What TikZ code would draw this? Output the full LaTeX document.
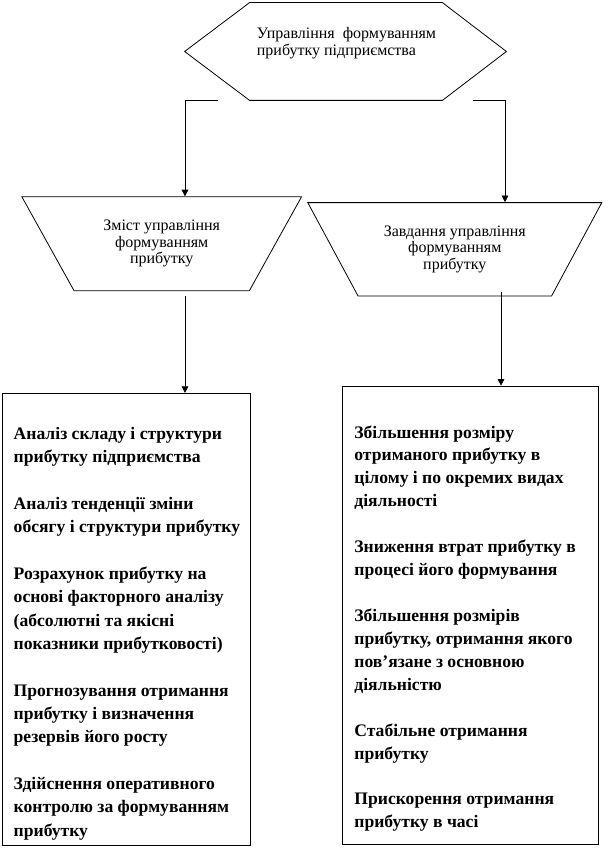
\documentclass[tikz,border=0pt]{standalone}
\usepackage{fontspec}
\setmainfont{Liberation Serif}
\usetikzlibrary{shapes,arrows,positioning,calc,arrows.meta}

\begin{document}
\begin{tikzpicture}[x=0.75pt,y=-0.75pt,
    >={Triangle[length=5pt,width=5pt]},
    every path/.style={line width=0.6pt},
    plain/.style={font=\fontsize{12pt}{12.4pt}\selectfont, align=center, inner sep=0pt},
    trap/.style={plain, draw, shape=trapezium, shape border rotate=180,
        trapezium stretches=true, minimum height=70.5pt},
    listbox/.style={draw, rectangle, inner sep=0pt},
    listtext/.style={align=left, inner sep=0pt, anchor=north west}]
    \useasboundingbox (0,0) rectangle (607,848);

    % Hexagon
    \node[inner sep=0pt, minimum width=240.75pt, minimum height=72.75pt] (upr) at (345.5,51.5) {};
    \draw (upr.west) -- ($(upr.north west)+(65,0)$) -- ($(upr.north east)+(-64,0)$) -- (upr.east)
        -- ($(upr.south east)+(-64,0)$) -- ($(upr.south west)+(65,0)$) -- cycle;
    \node[plain, align=left] (uprtext) at (346.5,43.3) {Управління \ формуванням\\прибутку підприємства};

    % Trapezia
    \node[trap, trapezium left angle=53.6, trapezium right angle=53.6, minimum width=210pt] (zmist) at (161.7,243.8) {Зміст управління\\формуванням\\прибутку};
    \node[trap, trapezium left angle=52, trapezium right angle=52, minimum width=220.7pt, minimum height=70pt] (zavd) at (454.8,249.3) {Завдання управління\\формуванням\\прибутку};

    % Boxes
    \node[listbox, minimum width=185.5pt, minimum height=338.8pt] (zmistbox) at (126.4,619.2) {};
    \node[listbox, minimum width=191.7pt, minimum height=344pt] (zavdbox) at (470.5,615.4) {};

    \node[listtext, font=\fontsize{13.2pt}{17.5pt}\selectfont\bfseries] (zmistlist) at (13.3,427) {Аналіз складу і структури\\прибутку підприємства\\[17.5pt]
        Аналіз тенденції зміни\\обсягу і структури прибутку\\[17.5pt]
        Розрахунок прибутку на\\основі факторного аналізу\\(абсолютні та якісні\\показники прибутковості)\\[17.5pt]
        Прогнозування отримання\\прибутку і визначення\\резервів його росту\\[17.5pt]
        Здійснення оперативного\\контролю за формуванням\\прибутку};
    \node[listtext, font=\fontsize{13.2pt}{17.2pt}\selectfont\bfseries] (zavdlist) at (354,425) {Збільшення розміру\\отриманого прибутку в\\цілому і по окремих видах\\діяльності\\[17.2pt]
        Зниження втрат прибутку в\\процесі його формування\\[17.2pt]
        Збільшення розмірів\\прибутку, отримання якого\\пов’язане з основною\\діяльністю\\[17.2pt]
        Стабільне отримання\\прибутку\\[17.2pt]
        Прискорення отримання\\прибутку в часі};

    % Connectors
    \coordinate (hexL) at (218,100);
    \coordinate (turnL) at (185,100);
    \coordinate (hexR) at (473,100);
    \coordinate (turnR) at (505,100);
    \coordinate (zmistout) at (185,296);
    \coordinate (zavdout) at (501,291.5);
    \draw[->] (hexL) -- (turnL) -- (turnL |- zmist.north);
    \draw[->] (hexR) -- (turnR) -- (turnR |- zavd.north);
    \draw[->] (zmistout) -- (zmistout |- zmistbox.north);
    \draw[->] (zavdout) -- (zavdout |- zavdbox.north);
\end{tikzpicture}
\end{document}
